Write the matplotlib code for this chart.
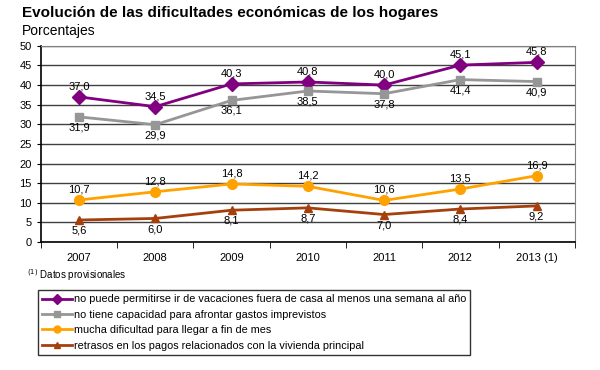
import matplotlib
matplotlib.use("Agg")
import matplotlib.pyplot as plt

years = ["2007", "2008", "2009", "2010", "2011", "2012", "2013 (1)"]
vacaciones = [37.0, 34.5, 40.3, 40.8, 40.0, 45.1, 45.8]
imprevistos = [31.9, 29.9, 36.1, 38.5, 37.8, 41.4, 40.9]
fin_de_mes = [10.7, 12.8, 14.8, 14.2, 10.6, 13.5, 16.9]
retrasos = [5.6, 6.0, 8.1, 8.7, 7.0, 8.4, 9.2]

labels = [
    "no puede permitirse ir de vacaciones fuera de casa al menos una semana al año",
    "no tiene capacidad para afrontar gastos imprevistos",
    "mucha dificultad para llegar a fin de mes",
    "retrasos en los pagos relacionados con la vivienda principal",
]

plt.rcParams['font.family'] = ['Liberation Sans', 'DejaVu Sans']

fig = plt.figure(figsize=(6, 3.7), dpi=100)
ax = fig.add_axes([0.068, 0.346, 0.89, 0.53])

x = list(range(len(years)))
series = [
    (vacaciones, "#800080", "D", 7, 1, labels[0]),
    (imprevistos, "#969696", "s", 6, -1, labels[1]),
    (fin_de_mes, "#FFA200", "o", 7, 1, labels[2]),
    (retrasos, "#A5400C", "^", 6, -1, labels[3]),
]

for vals, col, mk, ms, side, lab in series:
    ax.plot(x, vals, color=col, marker=mk, markersize=ms, linewidth=2, label=lab, zorder=3)
    for xi, v in zip(x, vals):
        txt = f"{v:.1f}".replace(".", ",")
        ax.annotate(txt, (xi, v), xytext=(0, 4 * side), textcoords="offset points",
                    ha="center", va="bottom" if side > 0 else "top", fontsize=8, color="black")

ax.set_xlim(-0.5, 6.5)
ax.set_ylim(0, 50)
ax.set_yticks(range(0, 51, 5))
ax.set_xticks(x)
ax.set_xticklabels(years, fontsize=8)
ax.set_xticks([i + 0.5 for i in range(-1, 7)], minor=True)
ax.tick_params(axis="x", which="major", length=0, pad=8)
ax.tick_params(axis="x", which="minor", length=4, direction="out")
ax.tick_params(axis="y", labelsize=8, length=3)
ax.yaxis.grid(True, color="#404040", linewidth=1)
ax.set_axisbelow(True)
for s in ["top", "right"]:
    ax.spines[s].set_color("#808080")
for s in ["left", "bottom"]:
    ax.spines[s].set_color("black")
    ax.spines[s].set_linewidth(1.2)

fig.text(0.037, 0.965, "Evolución de las dificultades económicas de los hogares",
         fontsize=11, fontweight="bold", va="center")
fig.text(0.037, 0.917, "Porcentajes", fontsize=10, va="center")
fig.text(0.045, 0.257, "$^{(1)}$ Datos provisionales", fontsize=7, va="center")

leg = fig.legend(loc="upper left", bbox_to_anchor=(0.063, 0.216), fontsize=7.8,
                 handlelength=2.8, handletextpad=0.1, labelspacing=0.5,
                 borderpad=0.4, frameon=True, fancybox=False, edgecolor="black",
                 borderaxespad=0)
leg.get_frame().set_linewidth(1)
for h in leg.legend_handles:
    h.set_markersize(5)

fig.savefig("out.png", dpi=100)
